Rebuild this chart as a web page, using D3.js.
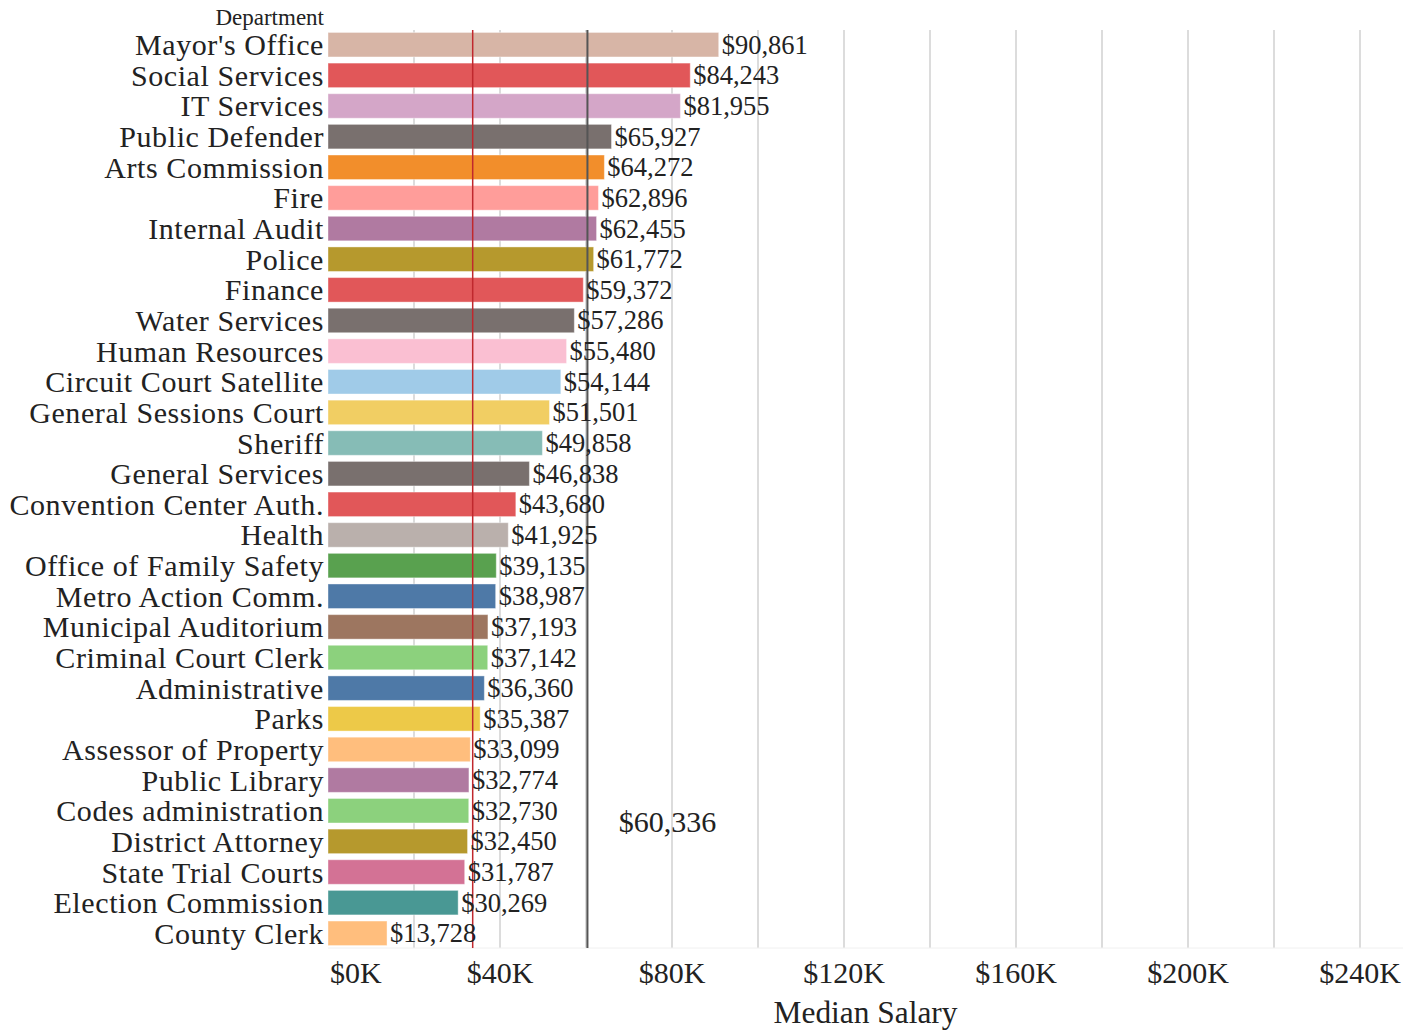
<!DOCTYPE html>
<html>
<head>
<meta charset="utf-8">
<script src="https://cdn.jsdelivr.net/npm/d3@7"></script>
<style>
  body { margin: 0; background: #fff; }
  svg text { font-family: "Liberation Serif", "Times New Roman", serif; fill: #222; }
</style>
</head>
<body>
<svg id="chart" width="1421" height="1030"></svg>
<script>
const width = 1421, height = 1030;

// data
const departments = [
  "Mayor's Office", "Social Services", "IT Services", "Public Defender", "Arts Commission",
  "Fire", "Internal Audit", "Police", "Finance", "Water Services",
  "Human Resources", "Circuit Court Satellite", "General Sessions Court", "Sheriff", "General Services",
  "Convention Center Auth.", "Health", "Office of Family Safety", "Metro Action Comm.", "Municipal Auditorium",
  "Criminal Court Clerk", "Administrative", "Parks", "Assessor of Property", "Public Library",
  "Codes administration", "District Attorney", "State Trial Courts", "Election Commission", "County Clerk"
];
const salaries = [
  90861, 84243, 81955, 65927, 64272,
  62896, 62455, 61772, 59372, 57286,
  55480, 54144, 51501, 49858, 46838,
  43680, 41925, 39135, 38987, 37193,
  37142, 36360, 35387, 33099, 32774,
  32730, 32450, 31787, 30269, 13728
];
const barColors = [
  "#d7b5a6", "#e15759", "#d4a6c8", "#79706e", "#f28e2b",
  "#ff9d9a", "#b07aa1", "#b6992d", "#e15759", "#79706e",
  "#fabfd2", "#a0cbe8", "#f1ce63", "#86bcb6", "#79706e",
  "#e15759", "#bab0ac", "#59a14f", "#4e79a7", "#9d7660",
  "#8cd17d", "#4e79a7", "#edc948", "#ffbe7d", "#b07aa1",
  "#8cd17d", "#b6992d", "#d37295", "#499894", "#ffbe7d"
];
const tickValues = [0, 40000, 80000, 120000, 160000, 200000, 240000];
const averageSalary = 60336;
const medianSalary = 33650;

const data = departments.map((d, i) => ({ name: d, value: salaries[i], color: barColors[i] }));

const svg = d3.select("#chart");
const plotLeft = 328, plotRight = 1403, plotTop = 30, plotBottom = 948;

const x = d3.scaleLinear().domain([0, 250000]).range([plotLeft, plotRight]);
const y = d3.scaleBand().domain(departments).range([plotTop, plotBottom]).paddingInner(0.2).paddingOuter(0.08);

// gridlines every 20K
const grid = svg.append("g");
grid.selectAll("line")
  .data(d3.range(20000, 250001, 20000))
  .join("line")
  .attr("x1", d => x(d)).attr("x2", d => x(d))
  .attr("y1", plotTop).attr("y2", plotBottom)
  .attr("stroke", "#d0d0d0")
  .attr("stroke-width", 1.5);

svg.append("line")
  .attr("x1", plotLeft).attr("x2", plotRight)
  .attr("y1", plotBottom).attr("y2", plotBottom)
  .attr("stroke", "#f0f0f0");

// bars
svg.append("g").selectAll("rect")
  .data(data)
  .join("rect")
  .attr("x", x(0))
  .attr("y", d => y(d.name))
  .attr("width", d => x(d.value) - x(0))
  .attr("height", y.bandwidth())
  .attr("fill", d => d.color)
  .attr("stroke", "#fff")
  .attr("stroke-opacity", 0.4)
  .attr("stroke-width", 1);

// reference lines
svg.append("line")
  .attr("x1", x(medianSalary)).attr("x2", x(medianSalary))
  .attr("y1", plotTop).attr("y2", plotBottom)
  .attr("stroke", "#c0282d").attr("stroke-width", 1.5);
svg.append("line")
  .attr("x1", x(averageSalary)).attr("x2", x(averageSalary))
  .attr("y1", plotTop).attr("y2", plotBottom)
  .attr("stroke", "#555").attr("stroke-width", 2);

const fmt = d3.format("$,");

svg.append("text")
  .attr("x", x(averageSalary) + 80)
  .attr("y", y(departments[25]) + y.bandwidth() / 2 + 11)
  .attr("text-anchor", "middle")
  .attr("dominant-baseline", "central")
  .attr("font-size", 30)
  .text(fmt(averageSalary));

// value labels
svg.append("g").selectAll("text")
  .data(data)
  .join("text")
  .attr("x", d => x(d.value) + 3)
  .attr("y", d => y(d.name) + y.bandwidth() / 2)
  .attr("dominant-baseline", "central")
  .attr("font-size", 26.5)
  .text(d => fmt(d.value));

// category labels
svg.append("g").selectAll("text")
  .data(data)
  .join("text")
  .attr("x", plotLeft - 4)
  .attr("y", d => y(d.name) + y.bandwidth() / 2)
  .attr("text-anchor", "end")
  .attr("dominant-baseline", "central")
  .attr("font-size", 30)
  .attr("letter-spacing", 0.6)
  .text(d => d.name);

svg.append("text")
  .attr("x", plotLeft - 4).attr("y", 17)
  .attr("text-anchor", "end")
  .attr("dominant-baseline", "central")
  .attr("font-size", 23)
  .text("Department");

// x axis tick labels
svg.append("g").selectAll("text")
  .data(tickValues)
  .join("text")
  .attr("x", d => d === 0 ? x(d) + 2 : x(d))
  .attr("y", 972)
  .attr("text-anchor", d => d === 0 ? "start" : "middle")
  .attr("dominant-baseline", "central")
  .attr("font-size", 30)
  .text(d => "$" + d / 1000 + "K");

svg.append("text")
  .attr("x", (plotLeft + plotRight) / 2).attr("y", 1012)
  .attr("text-anchor", "middle")
  .attr("dominant-baseline", "central")
  .attr("font-size", 31.4)
  .text("Median Salary");
</script>
</body>
</html>
